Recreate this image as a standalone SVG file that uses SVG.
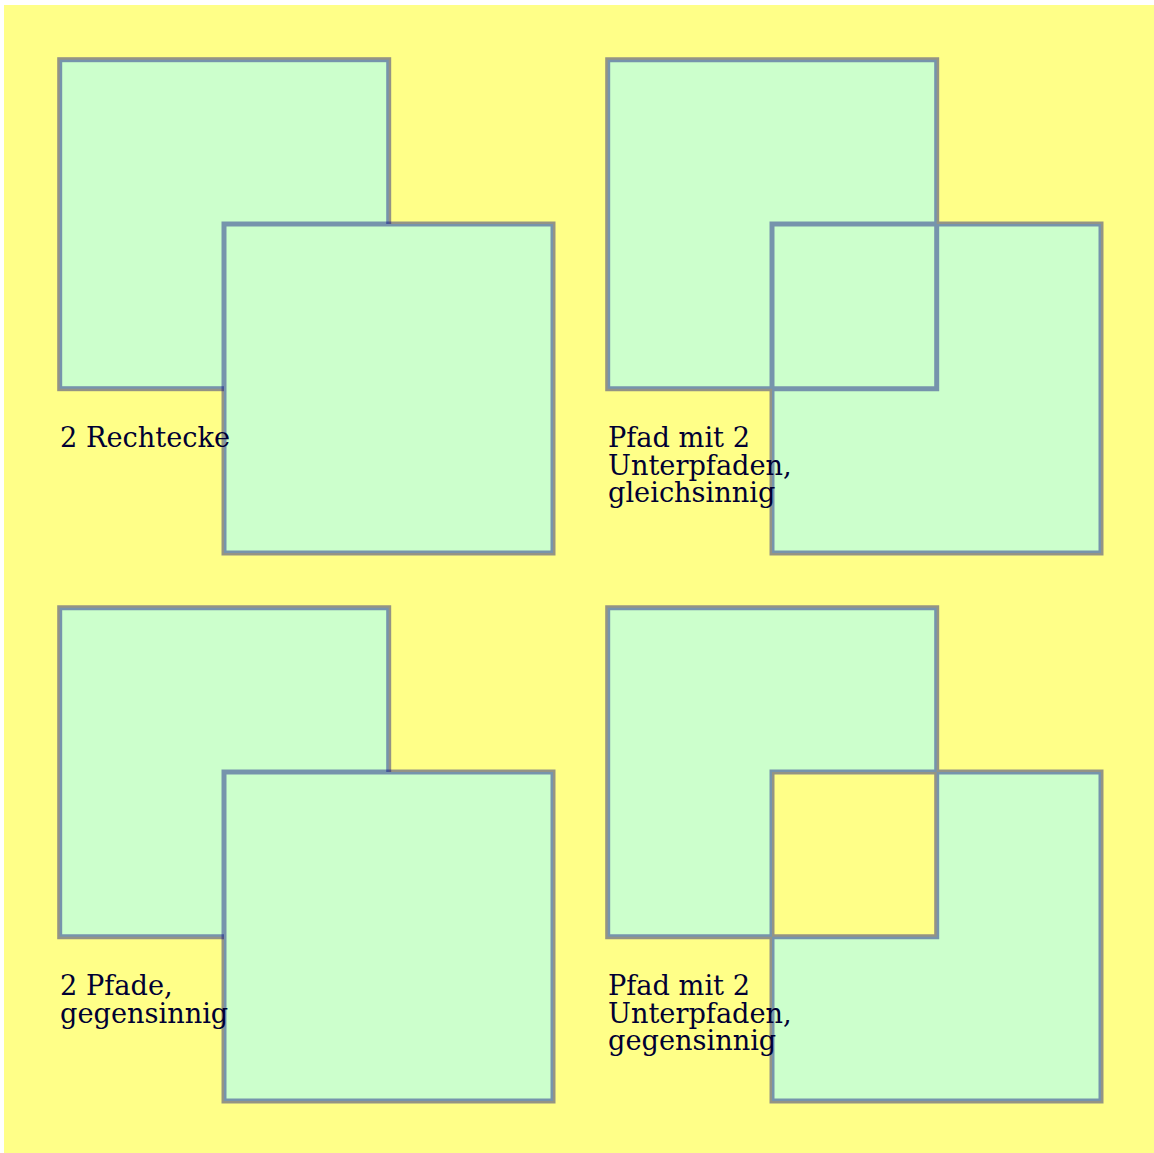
<svg xmlns="http://www.w3.org/2000/svg" width="1154" height="1153" viewBox="0 0 1154 1153">
<style>
.sq{fill:#ccffcc;stroke:#000080;stroke-opacity:0.42;stroke-width:5}
.lbl{font-family:"DejaVu Serif",serif;font-size:27.2px;fill:#000033}
</style>
<rect x="4" y="5" width="1150" height="1148" fill="#ffff88"/>
<g id="panel1">
<rect class="sq" x="59.7" y="59.7" width="329" height="329"/>
<rect class="sq" x="224" y="224" width="329" height="329"/>
<text class="lbl" x="60" y="447">2 Rechtecke</text>
</g>
<g id="panel2">
<path class="sq" d="M607.7 59.7 h329 v329 h-329 z M772 224 h329 v329 h-329 z"/>
<text class="lbl" x="608" y="447"><tspan x="608">Pfad mit 2</tspan><tspan x="608" dy="27.5">Unterpfaden,</tspan><tspan x="608" dy="27.5">gleichsinnig</tspan></text>
</g>
<g id="panel3">
<path class="sq" d="M59.7 607.7 h329 v329 h-329 z"/>
<path class="sq" d="M224 772 v329 h329 v-329 z"/>
<text class="lbl" x="60" y="995"><tspan x="60">2 Pfade,</tspan><tspan x="60" dy="27.5">gegensinnig</tspan></text>
</g>
<g id="panel4">
<path class="sq" d="M607.7 607.7 h329 v329 h-329 z M772 772 v329 h329 v-329 z"/>
<text class="lbl" x="608" y="995"><tspan x="608">Pfad mit 2</tspan><tspan x="608" dy="27.5">Unterpfaden,</tspan><tspan x="608" dy="27.5">gegensinnig</tspan></text>
</g>
<g id="connectors"/>
</svg>
